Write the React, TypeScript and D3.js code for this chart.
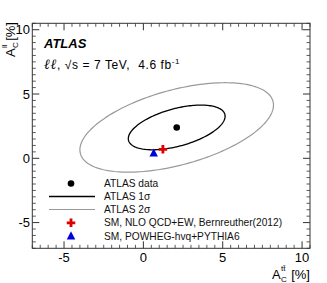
import * as d3 from "d3";
import React from "react";

// measurement (A_C^tt, A_C^ll) in %
const dataX = 2.1;
const dataY = 2.4;
const sigmaX = 3.05;
const sigmaY = 1.74;
const rho = 0.5;
const contourLevels = [1, 2];
const contourColors = ["#000000", "#9a9a9a"];

// SM predictions: Bernreuther NLO, POWHEG
const predX = [1.23, 0.65];
const predY = [0.7, 0.4];
const predColors = ["#dd0000", "#0000dd"];

const majorTicks = [-5, 0, 5, 10];
const legendLabels = [
  "ATLAS data",
  "ATLAS 1\u03c3",
  "ATLAS 2\u03c3",
  "SM, NLO QCD+EW, Bernreuther(2012)",
  "SM, POWHEG-hvq+PYTHIA6",
];

const W = 327;
const H = 283;
const font = "'Liberation Sans', Arial, Helvetica, sans-serif";

export default function App() {
  const x = d3.scaleLinear().domain([-7, 10.5]).range([32.3, 310]);
  const y = d3.scaleLinear().domain([-7, 10.5]).range([248.3, 23.3]);
  const minor = d3.range(-7, 10.5001, 0.5).filter((v) => !majorTicks.includes(v));

  const ellipse = (k: number) => {
    const ts = d3.range(0, 2 * Math.PI, Math.PI / 90);
    const pts = ts.map((t) => [
      dataX + k * sigmaX * Math.cos(t),
      dataY + k * sigmaY * (rho * Math.cos(t) + Math.sqrt(1 - rho * rho) * Math.sin(t)),
    ]);
    return d3
      .line<number[]>()
      .x((d) => x(d[0]))
      .y((d) => y(d[1]))
      .curve(d3.curveLinearClosed)(pts);
  };

  const cross = (cx: number, cy: number, s: number) => {
    const a = s / 2;
    const b = s / 6;
    return `M${cx - b},${cy - a}H${cx + b}V${cy - b}H${cx + a}V${cy + b}H${cx + b}V${cy + a}H${cx - b}V${cy + b}H${cx - a}V${cy - b}H${cx - b}Z`;
  };
  const tri = (cx: number, cy: number, s: number) =>
    `M${cx},${cy - s * 0.55}L${cx + s * 0.5},${cy + s * 0.4}L${cx - s * 0.5},${cy + s * 0.4}Z`;

  const [x0, x1] = x.range();
  const [y0, y1] = y.range();
  const axisColor = "#333";

  const legY = [183.5, 196.5, 209.5, 222.8, 236];
  const legMarkX = 71;
  const legTextX = 104;

  return (
    <svg width={W} height={H} style={{ position: "absolute", left: 0, top: 0, background: "#fff" }} fontFamily={font}>
      {/* ellipses */}
      {contourLevels.map((k, i) => (
        <path key={k} d={ellipse(k) || ""} fill="none" stroke={contourColors[i]} strokeWidth={i === 0 ? 1.3 : 1.2} />
      ))}
      {/* data point */}
      <circle cx={x(dataX)} cy={y(dataY)} r={3.3} fill="#000" />
      {/* predictions */}
      <path d={tri(x(predX[1]), y(predY[1]), 8.5)} fill={predColors[1]} />
      <path d={cross(x(predX[0]), y(predY[0]), 8.5)} fill={predColors[0]} />

      {/* frame */}
      <rect x={x0} y={y1} width={x1 - x0} height={y0 - y1} fill="none" stroke={axisColor} strokeWidth={1} />
      {minor.map((v) => (
        <g key={"m" + v} stroke={axisColor} strokeWidth={0.8}>
          <line x1={x(v)} x2={x(v)} y1={y0} y2={y0 - 3.5} />
          <line x1={x(v)} x2={x(v)} y1={y1} y2={y1 + 3.5} />
          <line x1={x0} x2={x0 + 3.5} y1={y(v)} y2={y(v)} />
          <line x1={x1} x2={x1 - 3.5} y1={y(v)} y2={y(v)} />
        </g>
      ))}
      {majorTicks.map((v) => (
        <g key={"M" + v} stroke={axisColor} strokeWidth={1}>
          <line x1={x(v)} x2={x(v)} y1={y0} y2={y0 - 7} />
          <line x1={x(v)} x2={x(v)} y1={y1} y2={y1 + 7} />
          <line x1={x0} x2={x0 + 7} y1={y(v)} y2={y(v)} />
          <line x1={x1} x2={x1 - 7} y1={y(v)} y2={y(v)} />
        </g>
      ))}
      {majorTicks.map((v) => (
        <text key={"xl" + v} x={x(v)} y={262} textAnchor="middle" fontSize={13} fill="#000">
          {v}
        </text>
      ))}
      {majorTicks.map((v) => (
        <text key={"yl" + v} x={30} y={y(v) + 4.6} textAnchor="end" fontSize={13} fill="#000">
          {v}
        </text>
      ))}

      {/* x axis title */}
      <g fill="#000">
        <text x={272} y={278.5} fontSize={13}>A</text>
        <text x={281} y={271} fontSize={8}>tt&#772;</text>
        <text x={281} y={281.5} fontSize={8}>C</text>
        <text x={310} y={278.5} fontSize={13} textAnchor="end">[%]</text>
      </g>
      {/* y axis title */}
      <g fill="#000" transform="translate(14.5,0) rotate(-90)">
        <text x={-57} y={0} fontSize={13}>A</text>
        <text x={-48} y={-7.5} fontSize={8}>ll</text>
        <text x={-48} y={3} fontSize={8}>C</text>
        <text x={-22} y={0} fontSize={13} textAnchor="end">[%]</text>
      </g>

      {/* labels */}
      <text x={44} y={48} fontSize={13} fontWeight="bold" fontStyle="italic" fill="#000">
        ATLAS
      </text>
      <text x={44} y={68.5} fontSize={12} fill="#000" letterSpacing={0.6} style={{ whiteSpace: "pre" }}>
        <tspan fontStyle="italic" fontFamily="'DejaVu Serif', serif" fontSize={14}>ℓℓ</tspan>
        <tspan>{", \u221As = 7 TeV,  4.6 fb"}</tspan>
        <tspan dy={-5} fontSize={8}>-1</tspan>
      </text>

      {/* legend */}
      <circle cx={legMarkX} cy={legY[0]} r={3.3} fill="#000" />
      <line x1={49} x2={95} y1={legY[1]} y2={legY[1]} stroke={contourColors[0]} strokeWidth={1.3} />
      <line x1={49} x2={95} y1={legY[2]} y2={legY[2]} stroke={contourColors[1]} strokeWidth={1.2} />
      <path d={cross(legMarkX, legY[3], 8.5)} fill={predColors[0]} />
      <path d={tri(legMarkX, legY[4], 8.5)} fill={predColors[1]} />
      {legendLabels.map((l, i) => (
        <text key={l} x={legTextX} y={legY[i] + 3.6} fontSize={10.2} fill="#111">
          {l}
        </text>
      ))}
    </svg>
  );
}
